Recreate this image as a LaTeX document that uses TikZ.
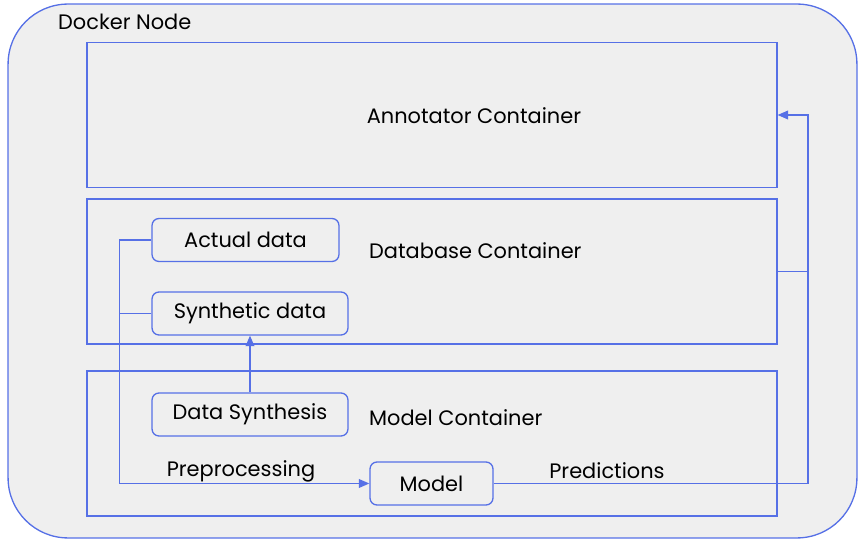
\documentclass[tikz,border=0pt]{standalone}
\usepackage{fontspec}
\setmainfont{Poppins}
\usepackage{tikz}
\usetikzlibrary{positioning,arrows.meta,calc}
\definecolor{linkblue}{HTML}{5670E6}
\definecolor{nodegray}{HTML}{EFEFEF}

\begin{document}
\begin{tikzpicture}[x=0.02cm, y=-0.02cm,
    every node/.style={font=\fontsize{11.9}{14}\selectfont},
    container/.style={draw=linkblue, fill=nodegray, line width=0.75pt, minimum width=13.8cm, minimum height=2.9cm, inner sep=0pt},
    part/.style={draw=linkblue, rounded corners=4pt, line width=0.75pt, minimum height=0.86cm, inner sep=0pt},
    link/.style={draw=linkblue, line width=0.75pt, -{Triangle[length=6pt,width=5pt]}}]
      \useasboundingbox (0,0) rectangle (867,543);
      \node[draw=linkblue, fill=nodegray, rounded corners=1.2cm, line width=0.75pt,
            minimum width=16.98cm, minimum height=10.68cm] (docker) at (432.5,271) {};
      \node[anchor=west] (dockerlbl) at (52,22) {Docker Node};
      \node[container] (annot) at (432,115) {};
      \node[container] (db) at (432,271.5) {};
      \node[container] (modelc) at (432,443.5) {};
      \node (annotlbl) at (474,116) {Annotator Container};
      \node[anchor=west] (dblbl) at (363,251) {Database Container};
      \node[anchor=west] (modellbl) at (363,418) {Model Container};
      \node[part, minimum width=3.74cm] (actual) at (245.5,240) {Actual data};
      \node[part, minimum width=3.92cm] (synth) at (250,313.5) {Synthetic data};
      \node[part, minimum width=3.92cm] (synthesis) at (250,414.5) {Data Synthesis};
      \node[part, minimum width=2.46cm] (model) at (431.5,483.5) {Model};
      \coordinate (bend) at (808,0);
      % data flow
      \draw[link] (actual.west) -- ++(-32,0) |- (model.west);
      \draw[link,-] (synth.west) -- ++(-32,0);
      \draw[link] (synthesis.north) -- (synth.south);
      \draw[link] (model.east) -| (bend |- annot.east) -- (annot.east);
      \draw[link,-] (db.east) -- (bend |- db.east);
      \node (prelbl) at (241,471) {Preprocessing};
      \node (predlbl) at (607,471) {Predictions};
    \end{tikzpicture}
\end{document}
